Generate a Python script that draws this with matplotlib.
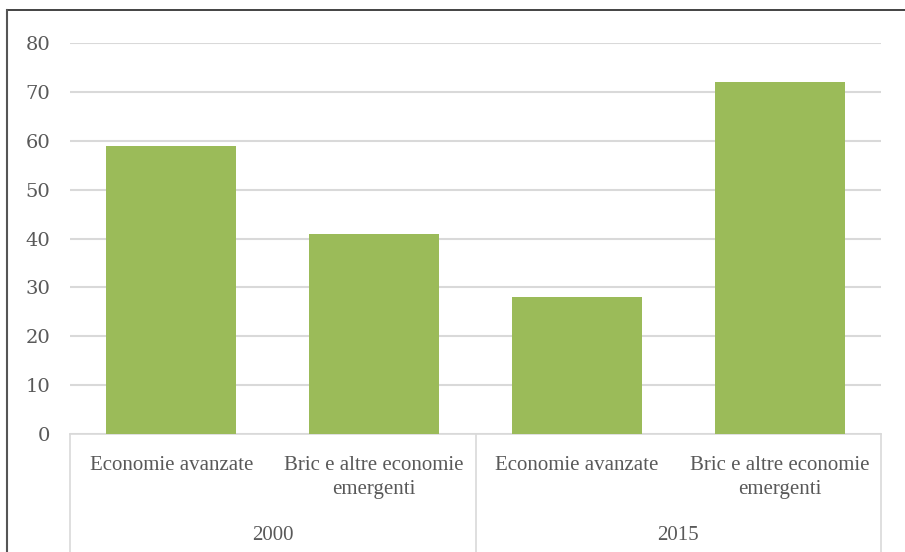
import matplotlib.pyplot as plt
from matplotlib.lines import Line2D

# data
years = ['2000', '2015']
groups = ['Economie avanzate', 'Bric e altre economie\nemergenti']
values = [59, 41, 28, 72]
yticks = list(range(0, 81, 10))

plt.rcParams['font.family'] = ['Liberation Serif', 'DejaVu Serif']
text_col = '#595959'
grid_col = '#d9d9d9'
bar_col = '#9bbb59'

fig = plt.figure(figsize=(9.05, 5.52), dpi=100)
ax = fig.add_axes([70 / 905, 118 / 552, 811 / 905, 391 / 552])

labels = [g for y in years for g in groups]
x = list(range(len(values)))
ax.bar(x, values, width=0.64, color=bar_col, zorder=3)

ax.set_xlim(-0.5, len(values) - 0.5)
ax.set_ylim(0, 80)
ax.set_yticks(yticks, labels=[str(v) for v in yticks],
              fontfamily='DejaVu Serif', fontsize=14, color=text_col)
ax.yaxis.grid(True, color=grid_col, linewidth=1.5, zorder=0)
ax.tick_params(axis='y', length=0, pad=14)
ax.tick_params(axis='x', length=0)
ax.set_xticks([])
for side in ['top', 'right', 'left']:
    ax.spines[side].set_visible(False)
ax.spines['bottom'].set_color(grid_col)
ax.spines['bottom'].set_linewidth(1.2)

# two-level category axis
trans = ax.get_xaxis_transform()
for i, lab in enumerate(labels):
    ax.text(i, -0.055, lab, transform=trans, ha='center', va='top',
            fontsize=15, color=text_col, linespacing=1.4)
for j, yr in enumerate(years):
    ax.text(j * 2 + 0.5, -0.26, yr, transform=trans, ha='center', va='center',
            fontsize=15, color=text_col)
for xs in [-0.5, 1.5, 3.5]:
    ax.plot([xs, xs], [0, -0.31], transform=trans, color=grid_col,
            linewidth=1.2, clip_on=False)

# outer frame (top and left only)
fig.add_artist(Line2D([7 / 905, 1], [1 - 10 / 552, 1 - 10 / 552],
                      transform=fig.transFigure, color='#222222', linewidth=1.2))
fig.add_artist(Line2D([7 / 905, 7 / 905], [0, 1 - 10 / 552],
                      transform=fig.transFigure, color='#555555', linewidth=1.5))

fig.savefig('out.png', dpi=100)
